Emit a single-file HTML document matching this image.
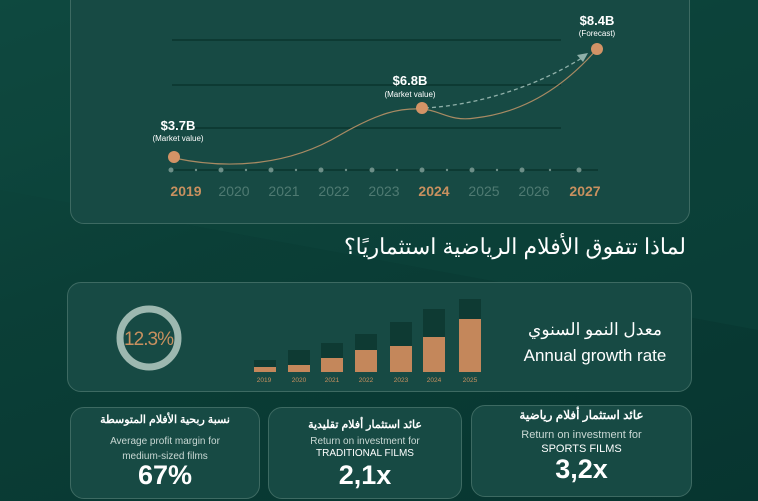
<!DOCTYPE html>
<html><head><meta charset="utf-8"><style>
body{margin:0;width:758px;height:501px;overflow:hidden;font-family:"Liberation Sans","Noto Sans CJK SC",sans-serif;}
.bg{position:absolute;inset:0;background:linear-gradient(160deg,#0f4a40 0%,#0b3f37 40%,#073530 100%);}
.card{position:absolute;background:#174a44;border:1px solid #3d6a62;border-radius:14px;box-sizing:border-box;}
.t{position:absolute;color:#fff;text-align:center;white-space:nowrap;}
</style></head><body>
<div class="bg"></div>
<svg style="position:absolute;left:0;top:0" width="758" height="501">
<polygon points="0,190 758,330 758,0 0,0" fill="#0e4840" opacity="0.35"/>
</svg>
<div class="card" style="left:70px;top:-20px;width:620px;height:244px;"></div>
<svg style="position:absolute;left:0;top:0" width="758" height="501">
<g stroke="#0d3a33" stroke-width="2">
<line x1="172" y1="40" x2="561" y2="40"/><line x1="172" y1="85" x2="561" y2="85"/><line x1="172" y1="128" x2="561" y2="128"/>
<line x1="171" y1="170" x2="598" y2="170"/></g>
<g fill="#6d8f88">
<circle cx="171" cy="170" r="2.5"/><circle cx="221" cy="170" r="2.5"/><circle cx="271" cy="170" r="2.5"/><circle cx="321" cy="170" r="2.5"/><circle cx="372" cy="170" r="2.5"/><circle cx="422" cy="170" r="2.5"/><circle cx="472" cy="170" r="2.5"/><circle cx="522" cy="170" r="2.5"/><circle cx="579" cy="170" r="2.5"/>
<circle cx="196" cy="170" r="1.2"/><circle cx="246" cy="170" r="1.2"/><circle cx="296" cy="170" r="1.2"/><circle cx="346" cy="170" r="1.2"/><circle cx="397" cy="170" r="1.2"/><circle cx="447" cy="170" r="1.2"/><circle cx="497" cy="170" r="1.2"/><circle cx="550" cy="170" r="1.2"/></g>
<path d="M174,158 C230,170 290,165 340,135 C380,112 400,108 422,109 C440,110 450,122 475,118 C530,112 570,80 597,49" fill="none" stroke="#a88a63" stroke-width="1.2"/>
<path d="M425,108 C480,105 540,85 585,56" fill="none" stroke="#8fb0a9" stroke-width="1.3" stroke-dasharray="4,3"/>
<path d="M577,55 L588,53 L583,62" fill="#8fb0a9"/>
<g fill="#d39366"><circle cx="174" cy="157" r="6"/><circle cx="422" cy="108" r="6"/><circle cx="597" cy="49" r="6"/></g>
<g font-family="Liberation Sans" font-size="14" text-anchor="middle" font-weight="bold">
<text x="186" y="196" fill="#c8905f">2019</text><text x="234" y="196" fill="#4f7a72" font-weight="normal">2020</text><text x="284" y="196" fill="#4f7a72" font-weight="normal">2021</text><text x="334" y="196" fill="#4f7a72" font-weight="normal">2022</text><text x="384" y="196" fill="#4f7a72" font-weight="normal">2023</text><text x="434" y="196" fill="#c8905f">2024</text><text x="484" y="196" fill="#4f7a72" font-weight="normal">2025</text><text x="534" y="196" fill="#4f7a72" font-weight="normal">2026</text><text x="585" y="196" fill="#c8905f">2027</text></g>
<g fill="#fff" text-anchor="middle" font-family="Liberation Sans">
<text x="178" y="130" font-size="13" font-weight="bold">$3.7B</text><text x="178" y="141" font-size="8">(Market value)</text>
<text x="410" y="85" font-size="13" font-weight="bold">$6.8B</text><text x="410" y="97" font-size="8">(Market value)</text>
<text x="597" y="25" font-size="13" font-weight="bold">$8.4B</text><text x="597" y="36" font-size="8">(Forecast)</text></g>
</svg>
<div class="t" style="right:72px;top:234px;font-size:22px;">لماذا تتفوق الأفلام الرياضية استثماريًا؟</div>
<div class="card" style="left:67px;top:282px;width:625px;height:110px;"></div>
<svg style="position:absolute;left:0;top:0" width="758" height="501">
<circle cx="149" cy="338" r="29" fill="none" stroke="#9db8b0" stroke-width="7"/>
<text x="149" y="345" fill="#c8905f" font-size="19" text-anchor="middle" font-family="Liberation Sans" textLength="50">12.3%</text>
<g fill="#0e3a33">
<rect x="254" y="360" width="22" height="12"/><rect x="288" y="350" width="22" height="22"/><rect x="321" y="343" width="22" height="29"/><rect x="355" y="334" width="22" height="38"/><rect x="390" y="322" width="22" height="50"/><rect x="423" y="309" width="22" height="63"/><rect x="459" y="299" width="22" height="73"/></g>
<g fill="#c4875b">
<rect x="254" y="367" width="22" height="5"/><rect x="288" y="365" width="22" height="7"/><rect x="321" y="358" width="22" height="14"/><rect x="355" y="350" width="22" height="22"/><rect x="390" y="346" width="22" height="26"/><rect x="423" y="337" width="22" height="35"/><rect x="459" y="319" width="22" height="53"/></g>
<g fill="#c8905f" font-size="6.5" text-anchor="middle" font-family="Liberation Sans">
<text x="264" y="382">2019</text><text x="299" y="382">2020</text><text x="332" y="382">2021</text><text x="366" y="382">2022</text><text x="401" y="382">2023</text><text x="434" y="382">2024</text><text x="470" y="382">2025</text></g>
</svg>
<div class="t" style="left:510px;width:170px;top:320px;font-size:17px;">معدل النمو السنوي</div>
<div class="t" style="left:510px;width:170px;top:346px;font-size:17px;">Annual growth rate</div>
<div class="card" style="left:70px;top:407px;width:190px;height:92px;"></div>
<div class="card" style="left:268px;top:407px;width:194px;height:92px;"></div>
<div class="card" style="left:471px;top:405px;width:221px;height:92px;"></div>
<div class="t" style="left:70px;width:190px;top:413px;font-size:11px;font-weight:bold;">نسبة ربحية الأفلام المتوسطة</div>
<div class="t" style="left:70px;width:190px;top:434px;font-size:10px;color:#c9d8d4;line-height:15px;">Average profit margin for<br>medium-sized films</div>
<div class="t" style="left:70px;width:190px;top:460px;font-size:27px;font-weight:bold;">67%</div>
<div class="t" style="left:268px;width:194px;top:418px;font-size:11px;font-weight:bold;">عائد استثمار أفلام تقليدية</div>
<div class="t" style="left:268px;width:194px;top:436px;font-size:10px;color:#c9d8d4;">Return on investment for</div>
<div class="t" style="left:268px;width:194px;top:448px;font-size:10px;">TRADITIONAL FILMS</div>
<div class="t" style="left:268px;width:194px;top:460px;font-size:27px;font-weight:bold;">2,1x</div>
<div class="t" style="left:471px;width:221px;top:408px;font-size:12px;font-weight:bold;">عائد استثمار أفلام رياضية</div>
<div class="t" style="left:471px;width:221px;top:429px;font-size:11px;color:#c9d8d4;">Return on investment for</div>
<div class="t" style="left:471px;width:221px;top:443px;font-size:11px;">SPORTS FILMS</div>
<div class="t" style="left:471px;width:221px;top:454px;font-size:27px;font-weight:bold;">3,2x</div>
</body></html>
